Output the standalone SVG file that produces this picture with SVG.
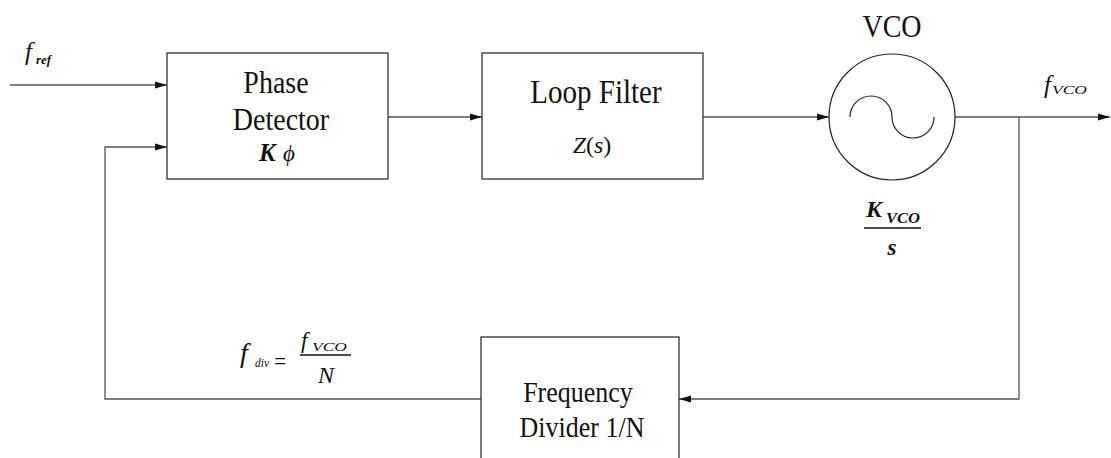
<svg xmlns="http://www.w3.org/2000/svg" width="1111" height="458" viewBox="0 0 1111 458">
  <style>
    .box { fill: #ffffff; stroke: #333333; stroke-width: 1.3; }
    .wire { fill: none; stroke: #555555; stroke-width: 1.3; }
    .lbl { font-family: "Liberation Serif", "DejaVu Serif", serif; fill: #111111; text-anchor: middle; }
    .m { font-family: "Liberation Serif", "DejaVu Serif", serif; fill: #111111; font-style: italic; }
    .mb { font-weight: bold; }
  </style>
  <defs>
    <marker id="arrow" markerUnits="userSpaceOnUse" markerWidth="13" markerHeight="8" refX="12" refY="4" orient="auto">
      <path d="M0,0.5 L12,4 L0,7.5 Z" fill="#111111"/>
    </marker>
  </defs>

  <!-- signal connectors -->
  <g id="connectors">
    <path class="wire" d="M10,85 H167" marker-end="url(#arrow)"/>
    <path class="wire" d="M388,117 H482" marker-end="url(#arrow)"/>
    <path class="wire" d="M703,117 H829" marker-end="url(#arrow)"/>
    <path class="wire" d="M955,117 H1110" marker-end="url(#arrow)"/>
    <path class="wire" d="M1019,117 V399 H679" marker-end="url(#arrow)"/>
    <path class="wire" d="M481,399 H105 V147 H167" marker-end="url(#arrow)"/>
  </g>

  <!-- phase detector -->
  <g id="phase-detector">
    <rect class="box" x="167" y="53" width="221" height="126"/>
    <text class="lbl" font-size="28" transform="translate(276,93) scale(1,1.15)">Phase</text>
    <text class="lbl" font-size="28" transform="translate(281,130) scale(1,1.15)">Detector</text>
    <text class="m mb" font-size="25" x="259" y="161">K</text>
    <text class="m" font-size="23" x="283" y="161">ϕ</text>
  </g>

  <!-- loop filter -->
  <g id="loop-filter">
    <rect class="box" x="482" y="53" width="221" height="126"/>
    <text class="lbl" font-size="29" transform="translate(596,103) scale(1,1.15)">Loop Filter</text>
    <text class="m" font-size="24" x="592" y="153" text-anchor="middle">Z<tspan font-style="normal">(</tspan>s<tspan font-style="normal">)</tspan></text>
  </g>

  <!-- voltage controlled oscillator -->
  <g id="vco">
    <circle cx="892" cy="117" r="63" fill="#ffffff" stroke="#222222" stroke-width="1.2"/>
    <path d="M850,117 A21,21 0 0 1 892,117 A21,21 0 0 0 934,117" fill="none" stroke="#222222" stroke-width="1.2"/>
    <text class="lbl" font-size="28" transform="translate(892,37) scale(1,1.15)">VCO</text>
    <text class="m mb" font-size="24" x="866" y="217">K</text>
    <text class="m mb" font-size="14" x="886" y="223" textLength="34" lengthAdjust="spacingAndGlyphs">VCO</text>
    <line x1="864" y1="228" x2="921" y2="228" stroke="#111111" stroke-width="1.3"/>
    <text class="m mb" font-size="23" x="892" y="255" text-anchor="middle">s</text>
  </g>

  <!-- frequency divider -->
  <g id="frequency-divider">
    <rect class="box" x="481" y="337" width="198" height="140"/>
    <text class="lbl" font-size="26" transform="translate(578,402) scale(1,1.15)">Frequency</text>
    <text class="lbl" font-size="26" transform="translate(582,437) scale(1,1.15)">Divider 1/N</text>
  </g>

  <!-- signal names -->
  <g id="signal-labels">
    <!-- reference input -->
    <text class="m" font-size="25" x="25" y="60">f</text>
    <text class="m mb" font-size="13" x="36" y="64">ref</text>
    <!-- oscillator output -->
    <text class="m" font-size="25" x="1044" y="93">f</text>
    <text class="m" font-size="13" x="1052" y="94" textLength="35" lengthAdjust="spacingAndGlyphs">VCO</text>
    <!-- divided feedback -->
    <text class="m" font-size="28" x="240" y="362">f</text>
    <text class="m" font-size="13" x="255" y="367" textLength="14" lengthAdjust="spacingAndGlyphs">div</text>
    <text class="m" font-size="26" x="273" y="370" font-style="normal" textLength="14" lengthAdjust="spacingAndGlyphs">=</text>
    <text class="m" font-size="23" x="301" y="348">f</text>
    <text class="m" font-size="13" x="312" y="351" textLength="35" lengthAdjust="spacingAndGlyphs">VCO</text>
    <line x1="300" y1="355" x2="351" y2="355" stroke="#111111" stroke-width="1.3"/>
    <text class="m" font-size="24" x="326" y="383" text-anchor="middle">N</text>
  </g>
</svg>
